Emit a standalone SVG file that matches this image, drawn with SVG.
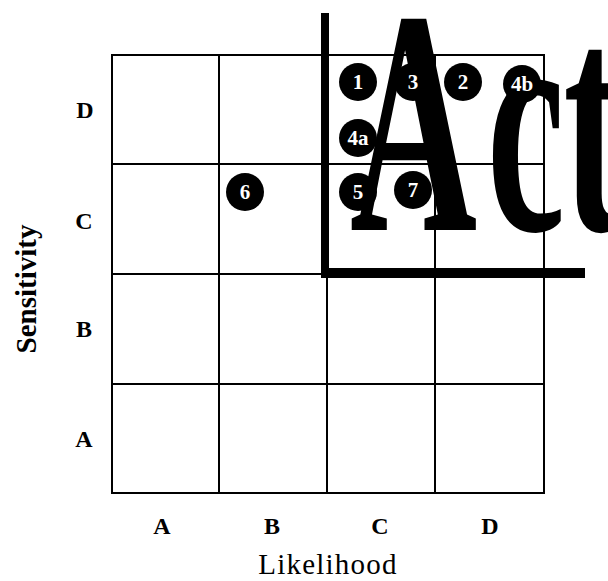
<svg xmlns="http://www.w3.org/2000/svg" width="608" height="581" viewBox="0 0 608 581">
<style>
.grid{fill:none;stroke:#000;stroke-width:2}
.lbl{font-family:"Liberation Serif",serif;font-weight:bold;font-size:24px;fill:#000;text-anchor:middle}
.axis{font-family:"Liberation Serif",serif;font-size:29px;fill:#000;text-anchor:middle}
.dot circle{fill:#000}
.dot text{font-family:"Liberation Serif",serif;font-weight:bold;font-size:21px;fill:#fff;text-anchor:middle}
.big{font-family:"Liberation Serif",serif;font-weight:bold;font-size:320px;fill:#000}
</style>
<rect width="608" height="581" fill="#fff"/>
<g id="grid">
<rect class="grid" x="112" y="55" width="432" height="438"/>
<line class="grid" x1="219" y1="55" x2="219" y2="493"/>
<line class="grid" x1="327" y1="55" x2="327" y2="493"/>
<line class="grid" x1="435" y1="55" x2="435" y2="493"/>
<line class="grid" x1="112" y1="164" x2="544" y2="164"/>
<line class="grid" x1="112" y1="274" x2="544" y2="274"/>
<line class="grid" x1="112" y1="384" x2="544" y2="384"/>
</g>
<g id="labels">
<text class="lbl" x="85" y="118">D</text>
<text class="lbl" x="84" y="229">C</text>
<text class="lbl" x="84" y="337">B</text>
<text class="lbl" x="84" y="447">A</text>
<text class="lbl" x="162" y="534">A</text>
<text class="lbl" x="272" y="534">B</text>
<text class="lbl" x="380" y="534">C</text>
<text class="lbl" x="490" y="534">D</text>
<text class="axis" x="328" y="574" letter-spacing="1.2">Likelihood</text>
<text class="axis" font-weight="bold" transform="translate(36,289) rotate(-90)">Sensitivity</text>
</g>
<g id="act">
<text class="big" transform="translate(350,230) scale(0.55,1)">A<tspan x="249">c</tspan><tspan x="388">t</tspan></text>
<rect x="321" y="13" width="8" height="265" fill="#000"/>
<rect x="321" y="268" width="264" height="10" fill="#000"/>
</g>
<g id="n1" class="dot"><circle cx="358" cy="82" r="19"/><text x="358" y="89">1</text></g>
<g id="n3" class="dot"><circle cx="413" cy="82" r="19"/><text x="413" y="89">3</text></g>
<g id="n2" class="dot"><circle cx="463" cy="82" r="19"/><text x="463" y="89">2</text></g>
<g id="n4b" class="dot"><circle cx="522" cy="84" r="19"/><text x="522" y="91">4b</text></g>
<g id="n4a" class="dot"><circle cx="358" cy="138" r="19"/><text x="358" y="145">4a</text></g>
<g id="n5" class="dot"><circle cx="358" cy="192" r="19"/><text x="358" y="199">5</text></g>
<g id="n7" class="dot"><circle cx="413" cy="190" r="19"/><text x="413" y="197">7</text></g>
<g id="n6" class="dot"><circle cx="245" cy="192" r="19"/><text x="245" y="199">6</text></g>
</svg>
